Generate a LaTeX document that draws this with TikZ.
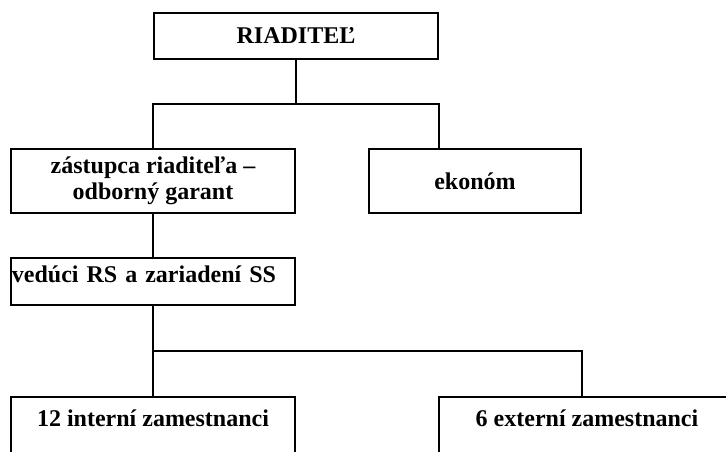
\documentclass[tikz,border=0pt]{standalone}
\usepackage{fontspec}
\setmainfont{Liberation Serif}
\begin{document}
\begin{tikzpicture}[x=0.75pt,y=-0.75pt,
    box/.style={draw,line width=1pt,align=center,inner sep=0.75pt,
      font=\fontsize{18}{19.5}\selectfont\bfseries},
    thickbox/.style={box,line width=1.5pt},
    link/.style={line width=1.3pt}]
  \useasboundingbox (0,0) rectangle (726,452);
  \clip (0,0) rectangle (726,452);
  \draw
    (296,36) node[thickbox,minimum width=213pt,minimum height=34.5pt] (riaditel){RIADITEĽ}
    (153,181) node[box,minimum width=213pt,minimum height=48pt] (zastupca){zástupca riaditeľa –\\odborný garant}
    (475,181) node[box,minimum width=159pt,minimum height=48pt] (ekonom){ekonóm}
    (153,281.5) node[thickbox,minimum width=213pt,minimum height=35.25pt,text width=211.5pt,align=left,text height=12pt,text depth=9.75pt] (veduci){vedúci RS a zariadení SS}
    (153,429) node[thickbox,minimum width=213pt,minimum height=48pt,text height=12pt,text depth=15pt] (interni){12 interní zamestnanci}
    (587,429) node[thickbox,minimum width=222pt,minimum height=48pt,text height=12pt,text depth=15pt] (externi){6 externí zamestnanci};
  \coordinate (bus1) at (296,104);
  \coordinate (bus2) at (582,351);
  \begin{scope}[link]
    \draw (riaditel) to (bus1);
    \draw (zastupca.north) |- (bus1) -| (riaditel.east |- ekonom.north);
    \draw (zastupca) to (veduci);
    \draw (veduci) to (interni);
    \draw (veduci.south |- bus2) -- (bus2) -- (bus2 |- externi.north);
  \end{scope}
\end{tikzpicture}
\end{document}
